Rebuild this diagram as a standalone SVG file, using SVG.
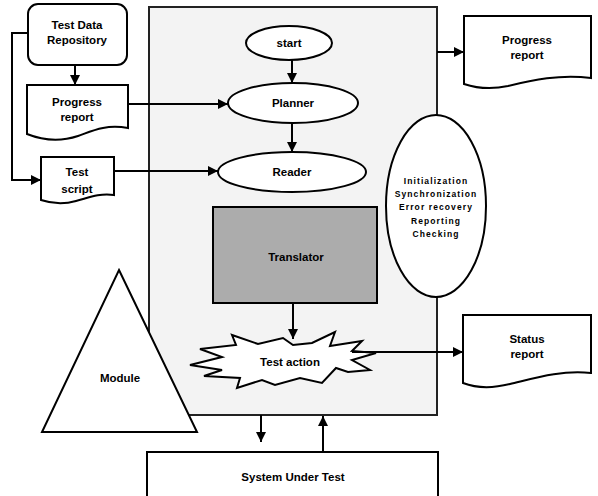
<svg xmlns="http://www.w3.org/2000/svg" width="598" height="496" viewBox="0 0 598 496">
<style>
.s{stroke:#000;stroke-width:2;fill:#fff}
.t{font-family:"Liberation Sans",Arial,sans-serif;font-size:11.5px;font-weight:bold;fill:#000;text-anchor:middle}
.e{font-family:"Liberation Sans",Arial,sans-serif;font-size:8.5px;font-weight:bold;fill:#000;text-anchor:middle;letter-spacing:1.1px}
.c{stroke:#000;stroke-width:2;fill:none}
</style>
<defs>
<marker id="a" viewBox="0 0 10 10" refX="10" refY="5" markerWidth="5" markerHeight="5" orient="auto">
<path d="M0,0 L10,5 L0,10 Z" fill="#000"/>
</marker>
</defs>
<rect width="598" height="496" fill="#fff"/>
<g id="main">
<rect x="149" y="7" width="288" height="408" fill="#f3f3f3" stroke="#222" stroke-width="2"/>
</g>
<g id="repository">
<rect x="28" y="4" width="99" height="61" rx="10" class="s"/>
<text x="77" y="29" class="t">Test Data</text>
<text x="77" y="44" class="t">Repository</text>
</g>
<g id="progress-left">
<path d="M27,85 H128 V128 C105,124 92,131 78,136 C60,142 42,140 27,134 Z" class="s"/>
<text x="77" y="106" class="t">Progress</text>
<text x="77" y="121" class="t">report</text>
</g>
<g id="test-script">
<path d="M41,157 H114 V195 C98,193 88,198 76,201 C62,205 50,203 41,200 Z" class="s"/>
<text x="77" y="176" class="t">Test</text>
<text x="77" y="193" class="t">script</text>
</g>
<g id="start">
<ellipse cx="289" cy="43" rx="43" ry="17" class="s"/>
<text x="289" y="47" class="t">start</text>
</g>
<g id="planner">
<ellipse cx="293" cy="103" rx="65" ry="20" class="s"/>
<text x="293" y="107" class="t">Planner</text>
</g>
<g id="reader">
<ellipse cx="292" cy="172" rx="74" ry="20" class="s"/>
<text x="292" y="176" class="t">Reader</text>
</g>
<g id="translator">
<rect x="213" y="207" width="164" height="96" fill="#acacac" stroke="#000" stroke-width="2"/>
<text x="296" y="261" class="t">Translator</text>
</g>
<g id="services">
<ellipse cx="436" cy="206" rx="50" ry="91" class="s"/>
<text x="436" y="184" class="e">Initialization</text>
<text x="436" y="197" class="e">Synchronization</text>
<text x="436" y="210" class="e">Error recovery</text>
<text x="436" y="224" class="e">Reporting</text>
<text x="436" y="237" class="e">Checking</text>
</g>
<g id="test-action">
<path d="M190,365 L222,357 L200,349 L236,345 L232,335 L258,344 L283,338 L293,345 L312,343 L335,332 L330,346 L362,341 L352,351 L376,353 L352,360 L370,370 L348,372 L336,368 L322,383 L300,378 L275,385 L262,380 L237,388 L240,378 L204,376 L222,370 Z" class="s"/>
<text x="290" y="366" class="t">Test action</text>
</g>
<g id="progress-right">
<path d="M464,16 H591 V78 C560,74 532,80 508,86 C490,90 476,88 464,84 Z" class="s"/>
<text x="527" y="44" class="t">Progress</text>
<text x="527" y="59" class="t">report</text>
</g>
<g id="status-report">
<path d="M463,315 H591 V373 C560,370 535,378 510,384 C490,389 476,388 463,383 Z" class="s"/>
<text x="527" y="343" class="t">Status</text>
<text x="527" y="358" class="t">report</text>
</g>
<g id="module">
<path d="M119,270 L197,432 L42,432 Z" class="s"/>
<text x="120" y="382" class="t">Module</text>
</g>
<g id="sut">
<path d="M147,500 V452 H438 V500" class="s"/>
<text x="293" y="481" class="t">System Under Test</text>
</g>
<g id="connectors">
<path d="M75,65 V85" class="c" marker-end="url(#a)"/>
<path d="M128,104 H228" class="c" marker-end="url(#a)"/>
<path d="M114,171 H218" class="c" marker-end="url(#a)"/>
<path d="M28,33 H12 V180 H41" class="c" marker-end="url(#a)"/>
<path d="M292,60 V83" class="c" marker-end="url(#a)"/>
<path d="M292,123 V152" class="c" marker-end="url(#a)"/>
<path d="M293,303 V339" class="c" marker-end="url(#a)"/>
<path d="M437,52 H464" class="c" marker-end="url(#a)"/>
<path d="M352,352 H463" class="c" marker-end="url(#a)"/>
<path d="M261,415 V442" class="c" marker-end="url(#a)"/>
<path d="M323,452 V416" class="c" marker-end="url(#a)"/>
</g>
</svg>
